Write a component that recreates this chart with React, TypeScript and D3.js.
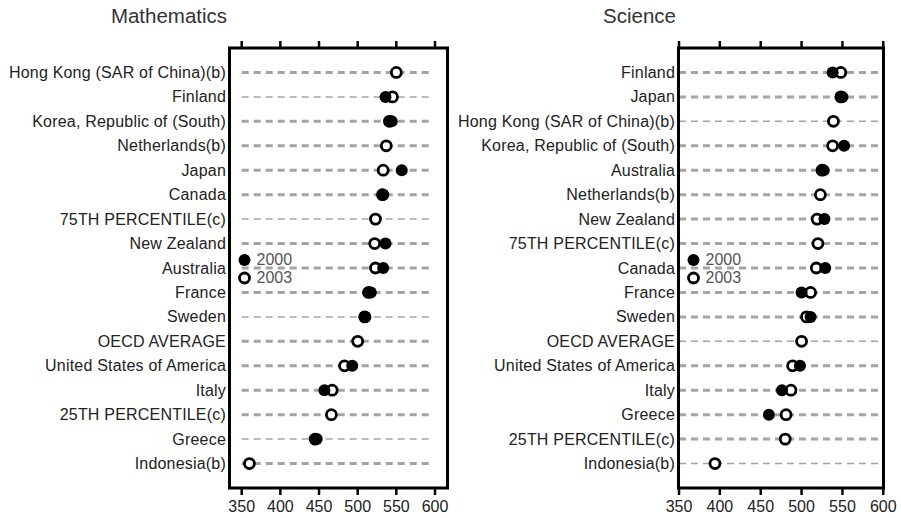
import React from "react";
import * as d3 from "d3";

const mathCountries = [
  "Hong Kong (SAR of China)(b)",
  "Finland",
  "Korea, Republic of (South)",
  "Netherlands(b)",
  "Japan",
  "Canada",
  "75TH PERCENTILE(c)",
  "New Zealand",
  "Australia",
  "France",
  "Sweden",
  "OECD AVERAGE",
  "United States of America",
  "Italy",
  "25TH PERCENTILE(c)",
  "Greece",
  "Indonesia(b)",
];
const math2000: (number | null)[] = [null, 536, 544, null, 557, 533, null, 536, 533, 517, 510, null, 493, 457, null, 447, null];
const math2003: (number | null)[] = [550, 545, 541, 537, 533, 532, 523, 522, 523, 514, 509, 500, 483, 467, 466, 445, 360];

const sciCountries = [
  "Finland",
  "Japan",
  "Hong Kong (SAR of China)(b)",
  "Korea, Republic of (South)",
  "Australia",
  "Netherlands(b)",
  "New Zealand",
  "75TH PERCENTILE(c)",
  "Canada",
  "France",
  "Sweden",
  "OECD AVERAGE",
  "United States of America",
  "Italy",
  "Greece",
  "25TH PERCENTILE(c)",
  "Indonesia(b)",
];
const sci2000: (number | null)[] = [538, 550, null, 552, 527, null, 528, null, 529, 500, 511, null, 498, 476, 460, null, null];
const sci2003: (number | null)[] = [548, 548, 539, 538, 525, 523, 519, 520, 518, 511, 506, 500, 489, 487, 481, 480, 394];

const tickValues = [350, 400, 450, 500, 550, 600];
const legendLabels = ["2000", "2003"];
const titles = ["Mathematics", "Science"];

const FONT = "'Liberation Sans', Arial, sans-serif";

const layouts = [
  { boxX0: 229.5, boxX1: 447.5, x350: 241.7, x600: 435, labelEnd: 226, titleX: 169, thin: [1, 6, 10, 15] },
  { boxX0: 678.5, boxX1: 883.5, x350: 679, x600: 883.3, labelEnd: 675, titleX: 639.5, thin: [2, 11, 16] },
];

const BOX_TOP = 48;
const BOX_BOTTOM = 488;

function Panel({ idx, cats, v2000, v2003 }: { idx: number; cats: string[]; v2000: (number | null)[]; v2003: (number | null)[] }) {
  const L = layouts[idx];
  const x = d3.scaleLinear().domain([350, 600]).range([L.x350, L.x600]);
  const y = d3.scalePoint<string>().domain(cats).range([BOX_TOP, BOX_BOTTOM]).padding(1);
  return (
    <g>
      <text x={L.titleX} y={22.5} textAnchor="middle" fontSize={20.5} fill="#333" fontFamily={FONT}>
        {titles[idx]}
      </text>
      {cats.map((c, i) => (
        <text key={"l" + i} x={L.labelEnd} y={y(c)!} dy="0.35em" textAnchor="end" fontSize={16} letterSpacing={0.2} fill="#222" fontFamily={FONT}>
          {c}
        </text>
      ))}
      {cats.map((c, i) => (
        <line
          key={"g" + i}
          x1={x(350)}
          x2={x(595)}
          y1={y(c)!}
          y2={y(c)!}
          stroke="#a4a4a4"
          strokeWidth={L.thin.includes(i) ? 1.5 : 3}
          strokeDasharray="7 5"
        />
      ))}
      <rect x={L.boxX0} y={BOX_TOP} width={L.boxX1 - L.boxX0} height={BOX_BOTTOM - BOX_TOP} fill="none" stroke="#000" strokeWidth={3} />
      {tickValues.map((t) => (
        <g key={"t" + t}>
          <line x1={x(t)} x2={x(t)} y1={BOX_TOP} y2={BOX_TOP - 7} stroke="#000" strokeWidth={2.5} />
          <line x1={x(t)} x2={x(t)} y1={BOX_BOTTOM} y2={BOX_BOTTOM + 7} stroke="#000" strokeWidth={2.5} />
          <text x={x(t)} y={506} dy="0.35em" textAnchor="middle" fontSize={16} fill="#222" fontFamily={FONT}>
            {t}
          </text>
        </g>
      ))}
      {cats.map((c, i) =>
        v2003[i] != null ? (
          <circle key={"o" + i} cx={x(v2003[i] as number)} cy={y(c)!} r={5} fill="#fff" stroke="#000" strokeWidth={2.8} />
        ) : null
      )}
      {cats.map((c, i) =>
        v2000[i] != null ? <circle key={"f" + i} cx={x(v2000[i] as number)} cy={y(c)!} r={6} fill="#000" /> : null
      )}
      <circle cx={L.boxX0 + 15} cy={260} r={6} fill="#000" />
      <circle cx={L.boxX0 + 15} cy={278} r={5} fill="#fff" stroke="#000" strokeWidth={2.8} />
      <text x={L.boxX0 + 27} y={259} dy="0.35em" fontSize={16} fill="#555" fontFamily={FONT}>
        {legendLabels[0]}
      </text>
      <text x={L.boxX0 + 27} y={277} dy="0.35em" fontSize={16} fill="#555" fontFamily={FONT}>
        {legendLabels[1]}
      </text>
    </g>
  );
}

export default function App() {
  return (
    <svg
      width={901}
      height={518}
      style={{ position: "absolute", left: 0, top: 0, display: "block", background: "#fff" }}
    >
      <rect width={901} height={518} fill="#fff" />
      <Panel idx={0} cats={mathCountries} v2000={math2000} v2003={math2003} />
      <Panel idx={1} cats={sciCountries} v2000={sci2000} v2003={sci2003} />
    </svg>
  );
}
